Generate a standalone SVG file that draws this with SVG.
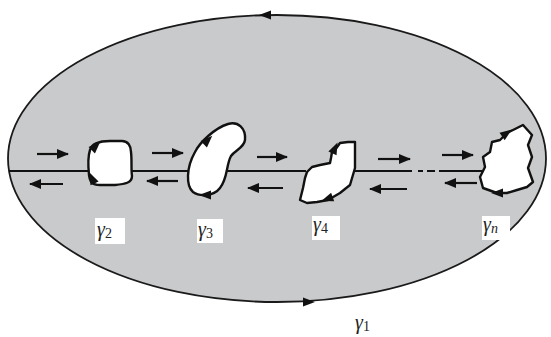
<svg xmlns="http://www.w3.org/2000/svg" width="551" height="337" viewBox="0 0 551 337">
<defs>
<marker id="ah" markerUnits="userSpaceOnUse" markerWidth="12" markerHeight="10" refX="11" refY="5" orient="auto">
<path d="M0,0 L12,5 L0,10 Z" fill="#111"/>
</marker>
<path id="tri" d="M6,0 L-6,-4.5 L-6,4.5 Z"/>
</defs>
<style>
.bg{fill:#fff}
.region{fill:#c9cacc;stroke:#1a1a1a;stroke-width:1.8}
.hole{fill:#fff;stroke:#111;stroke-width:2.4;stroke-linejoin:round}
.cut{stroke:#111;stroke-width:2;fill:none}
.arr{stroke:#111;stroke-width:2.2;fill:none;marker-end:url(#ah)}
.head{fill:#111}
.lblbox{fill:#fff}
.lbl{font-family:"Liberation Serif",serif;font-size:20px;fill:#222}
.g{font-style:italic}
.sub{font-size:14px}
</style>
<rect class="bg" x="0" y="0" width="551" height="337"/>

<g id="gamma1">
<ellipse class="region" cx="277" cy="158.5" rx="269" ry="143.5"/>
<use href="#tri" class="head" transform="translate(265,15) rotate(180)"/>
<use href="#tri" class="head" transform="translate(309,302)"/>
</g>

<g id="connectors">
<path class="cut" d="M9,171 H89 M131,171 H190 M225,171 H306 M355,171 H412 M418,171 H423 M427,171 H435 M439,171 H482"/>
<line class="arr" x1="37" y1="154" x2="68" y2="154"/>
<line class="arr" x1="152" y1="153" x2="183" y2="153"/>
<line class="arr" x1="257" y1="157" x2="287" y2="157"/>
<line class="arr" x1="378" y1="159" x2="410" y2="159"/>
<line class="arr" x1="442" y1="155" x2="473" y2="155"/>
<line class="arr" x1="63" y1="184" x2="30" y2="184"/>
<line class="arr" x1="178" y1="181" x2="147" y2="181"/>
<line class="arr" x1="283" y1="188" x2="248" y2="188"/>
<line class="arr" x1="407" y1="189" x2="370" y2="189"/>
<line class="arr" x1="477" y1="183" x2="445" y2="183"/>
</g>

<g id="gamma2">
<path class="hole" d="M90,150 C92,143 100,141 110,141 L122,141 C128,141 131,146 131,152 C132,160 131,170 132,176 C132,183 125,184 115,185 L100,185 C92,185 90,182 89,175 C88,165 88,156 90,150 Z"/>
<use href="#tri" class="head" transform="translate(96,146) rotate(-45)"/>
<use href="#tri" class="head" transform="translate(92,178) rotate(-115)"/>
</g>

<g id="gamma3">
<path class="hole" d="M195,152 C200,142 215,128 228,124 C238,121 246,128 245,140 C244,148 235,150 231,156 C226,165 228,178 220,188 C214,196 200,197 193,192 C186,186 186,168 195,152 Z"/>
<use href="#tri" class="head" transform="translate(208,140) rotate(-45)"/>
<use href="#tri" class="head" transform="translate(205,195) rotate(180)"/>
</g>

<g id="gamma4">
<polygon class="hole" points="355,142 348,142 340,143 335,150 332,152 331,158 330,163 320,165 312,167 307,172 305,178 303,188 300,200 307,203 317,202 328,200 340,193 350,185 355,168"/>
<use href="#tri" class="head" transform="translate(335,148) rotate(-65)"/>
<use href="#tri" class="head" transform="translate(327,199) rotate(160)"/>
</g>

<g id="gammaN">
<polygon class="hole" points="523,125 532,135 528,145 532,157 528,168 533,182 527,187 517,190 507,193 497,193 483,188 480,177 485,167 483,157 490,152 492,142 500,140 507,133 513,130"/>
<use href="#tri" class="head" transform="translate(507,133) rotate(-35)"/>
<use href="#tri" class="head" transform="translate(497,193) rotate(180)"/>
</g>

<g id="labels">
<rect class="lblbox" x="95" y="218" width="30" height="26"/>
<text class="lbl" x="97" y="236"><tspan class="g">γ</tspan><tspan class="sub" dy="2">2</tspan></text>
<rect class="lblbox" x="197" y="219" width="26" height="24"/>
<text class="lbl" x="198" y="236"><tspan class="g">γ</tspan><tspan class="sub" dy="2">3</tspan></text>
<rect class="lblbox" x="312" y="216" width="28" height="24"/>
<text class="lbl" x="313" y="231"><tspan class="g">γ</tspan><tspan class="sub" dy="2">4</tspan></text>
<rect class="lblbox" x="482" y="216" width="28" height="24"/>
<text class="lbl" x="483" y="231"><tspan class="g">γ</tspan><tspan class="sub g" dy="2">n</tspan></text>
<text class="lbl" x="355" y="329"><tspan class="g">γ</tspan><tspan class="sub" dy="2">1</tspan></text>
</g>
</svg>
